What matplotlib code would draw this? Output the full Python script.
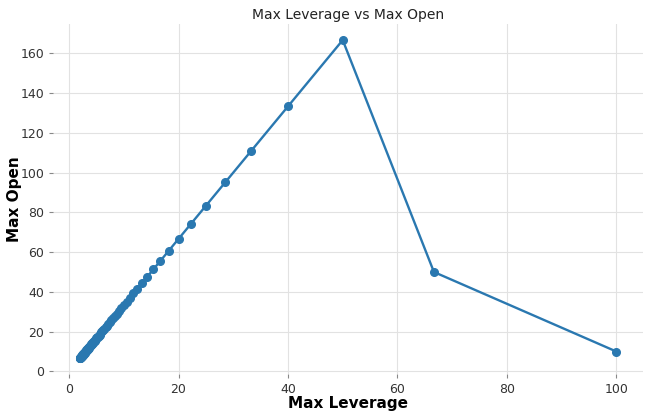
import matplotlib
matplotlib.use("Agg")
import matplotlib.pyplot as plt

max_leverage = [2, 2.02, 2.04, 2.06, 2.08, 2.11, 2.13, 2.15, 2.17, 2.20, 2.22, 2.25, 2.27, 2.30,
                2.33, 2.35, 2.38, 2.41, 2.44, 2.47, 2.5, 2.53, 2.56, 2.60, 2.63, 2.67, 2.70,
                2.74, 2.78, 2.82, 2.86, 2.90, 2.94, 2.99, 3.03, 3.08, 3.13, 3.17, 3.23, 3.28,
                3.33, 3.39, 3.45, 3.51, 3.57, 3.64, 3.70, 3.77, 3.85, 3.92, 4, 4.08, 4.17,
                4.26, 4.35, 4.44, 4.55, 4.65, 4.76, 4.88, 5, 5.13, 5.26, 5.41, 5.56, 5.71,
                5.88, 6.06, 6.25, 6.45, 6.67, 6.90, 7.14, 7.41, 7.69, 8, 8.33, 8.70, 9.09,
                9.52, 10, 10.53, 11.11, 11.76, 12.5, 13.33, 14.29, 15.38, 16.67, 18.18, 20,
                22.22, 25, 28.57, 33.33, 40, 50, 66.67, 100]
max_open = [6.67, 6.73, 6.80, 6.87, 6.94, 7.02, 7.09, 7.17, 7.25, 7.33, 7.41, 7.49, 7.58, 7.66,
            7.75, 7.84, 7.94, 8.03, 8.13, 8.23, 8.33, 8.44, 8.55, 8.66, 8.77, 8.89, 9.01,
            9.13, 9.26, 9.39, 9.52, 9.66, 9.80, 9.95, 10.10, 10.26, 10.42, 10.58, 10.75, 10.93,
            11.11, 11.30, 11.49, 11.70, 11.90, 12.12, 12.35, 12.58, 12.82, 13.07, 13.33, 13.61, 13.89,
            14.18, 14.49, 14.81, 15.15, 15.50, 15.87, 16.26, 16.67, 17.09, 17.54, 18.02, 18.52, 19.05,
            19.61, 20.20, 20.83, 21.51, 22.22, 22.99, 23.81, 24.69, 25.64, 26.67, 27.78, 28.99, 30.30,
            31.75, 33.33, 35.09, 37.04, 39.22, 41.67, 44.44, 47.62, 51.28, 55.56, 60.61, 66.67,
            74.07, 83.33, 95.24, 111.11, 133.33, 166.67, 50, 10]

fig = plt.figure(figsize=(6.49, 4.17), dpi=100)
ax = fig.add_axes([0.082, 0.103, 0.909, 0.839])
ax.plot(max_leverage, max_open, marker='o', color='#2a78b0', linewidth=1.7, markersize=5.5)
ax.set_title('Max Leverage vs Max Open', fontsize=10, pad=4, color='#222222')
ax.set_xlabel('Max Leverage', fontsize=11, fontweight='bold', labelpad=0)
ax.set_ylabel('Max Open', fontsize=11, fontweight='bold', labelpad=-1)
ax.set_xticks([0, 20, 40, 60, 80, 100])
ax.set_yticks([0, 20, 40, 60, 80, 100, 120, 140, 160])
ax.grid(True, color='#e2e2e2', linewidth=0.8)
ax.set_axisbelow(True)
for s in ax.spines.values():
    s.set_visible(False)
ax.tick_params(labelsize=9, colors='#333333', length=3, color='#888888')
fig.savefig('out.png', dpi=100)
